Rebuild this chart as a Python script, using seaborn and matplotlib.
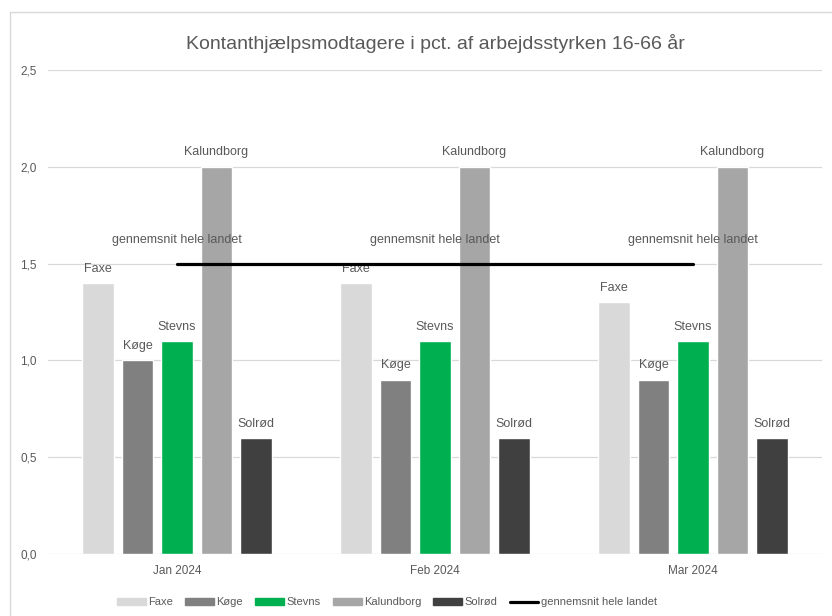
import pandas as pd
import seaborn as sns
import matplotlib.pyplot as plt
from matplotlib.patches import Rectangle
from matplotlib.ticker import FuncFormatter
from matplotlib.lines import Line2D

months = ["Jan 2024", "Feb 2024", "Mar 2024"]
kommuner = ["Faxe", "Køge", "Stevns", "Kalundborg", "Solrød"]
faxe = [1.4, 1.4, 1.3]
koege = [1.0, 0.9, 0.9]
stevns = [1.1, 1.1, 1.1]
kalundborg = [2.0, 2.0, 2.0]
solroed = [0.6, 0.6, 0.6]
landet = [1.5, 1.5, 1.5]
line_name = "gennemsnit hele landet"

colors = ["#d9d9d9", "#808080", "#00b050", "#a6a6a6", "#404040"]
txt = "#595959"

rows = []
for name, vals in zip(kommuner, [faxe, koege, stevns, kalundborg, solroed]):
    for m, v in zip(months, vals):
        rows.append({"month": m, "kommune": name, "value": v})
df = pd.DataFrame(rows)

sns.set_style("white")
plt.rcParams['font.family'] = ['Liberation Sans', 'DejaVu Sans']

fig = plt.figure(figsize=(8.32, 6.16), dpi=100)
ax = fig.add_axes([0.0577, 0.1006, 0.9303, 0.7858])

sns.barplot(data=df, x="month", y="value", hue="kommune", order=months,
            hue_order=kommuner, palette=colors, width=0.765, gap=0.21,
            saturation=1, ax=ax, legend=False)

# kommune name above each bar
for cont, name in zip(ax.containers, kommuner):
    ax.bar_label(cont, labels=[name] * len(cont), padding=6, fontsize=9, color=txt)

ax.plot(range(len(months)), landet, color="black", lw=2.3, zorder=3)
for i, v in enumerate(landet):
    ax.annotate(line_name, (i, v), xytext=(0, 13), textcoords="offset points",
                ha="center", va="bottom", fontsize=9, color=txt)

ax.set_ylim(0, 2.5)
ax.set_xlim(-0.5, 2.5)
ax.set_yticks([0, 0.5, 1.0, 1.5, 2.0, 2.5])
ax.yaxis.set_major_formatter(FuncFormatter(lambda v, p: f"{v:.1f}".replace(".", ",")))
ax.grid(axis="y", color="#d9d9d9", lw=0.9)
ax.set_axisbelow(True)
for s in ax.spines.values():
    s.set_visible(False)
ax.tick_params(axis="both", length=0, labelsize=8.5, colors=txt, pad=8)
ax.set_xlabel("")
ax.set_ylabel("")
ax.set_title("Kontanthjælpsmodtagere i pct. af arbejdsstyrken 16-66 år",
             fontsize=14, color=txt, pad=15)

handles = [Rectangle((0, 0), 1, 1, color=c) for c in colors]
handles.append(Line2D([0], [0], color="black", lw=2.3))
fig.legend(handles, kommuner + [line_name], loc="center", ncol=6,
           bbox_to_anchor=(0.465, 0.022), frameon=False, fontsize=8,
           handlelength=2.6, handleheight=0.6, handletextpad=0.2,
           columnspacing=1.1, labelcolor=txt)

fig.patches.append(Rectangle((0.012, -0.2), 1.2, 1.18, transform=fig.transFigure,
                             fill=False, edgecolor="#d9d9d9", lw=1))

fig.savefig("out.png", dpi=100)
